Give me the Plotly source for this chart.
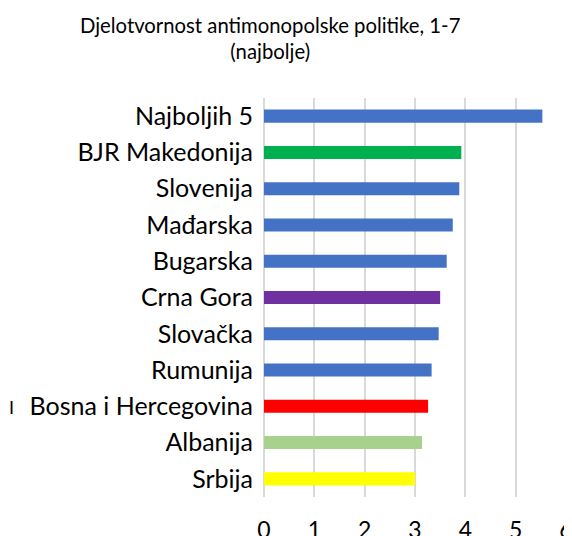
import plotly.graph_objects as go

categories = ["Najboljih 5", "BJR Makedonija", "Slovenija", "Mađarska", "Bugarska",
              "Crna Gora", "Slovačka", "Rumunija", "Bosna i Hercegovina", "Albanija", "Srbija"]
values = [5.53, 3.92, 3.88, 3.75, 3.63, 3.50, 3.47, 3.33, 3.26, 3.14, 3.00]
x_ticks = [0, 1, 2, 3, 4, 5, 6]
title_text = "Djelotvornost antimonopolske politike, 1-7<br>(najbolje)"

bar_colors = ["#4472C4", "#00B050", "#4472C4", "#4472C4", "#4472C4",
              "#7030A0", "#4472C4", "#4472C4", "#FF0000", "#A9D18E", "#FFFF00"]

FONT = "Lato, 'Open Sans', sans-serif"

# The page body has an 8px default margin; layout is expressed in div pixels.
W, H = 572, 536
L, R, T, B = 256, 14, 90, 47


def px_x(x):
    return (x - L) / (W - L - R)


def px_y(y):
    return 1 - (y - T) / (H - T - B)


fig = go.Figure(go.Bar(
    x=values, y=categories, orientation="h",
    marker=dict(color=bar_colors, line=dict(width=0)),
    hoverinfo="x+y",
))

fig.update_layout(
    width=W, height=H,
    margin=dict(l=L, r=R, t=T, b=B, autoexpand=False),
    paper_bgcolor="white", plot_bgcolor="white",
    bargap=0.64,
    showlegend=False,
    font=dict(family=FONT, color="#000000"),
    xaxis=dict(range=[0, 6], tickvals=x_ticks, showgrid=True, gridcolor="#d9d9d9",
               gridwidth=2, zeroline=True, zerolinecolor="#d9d9d9", zerolinewidth=2,
               showline=False, ticks="outside", ticklen=12, tickcolor="rgba(0,0,0,0)",
               automargin=False,
               tickfont=dict(family=FONT, size=23, color="#000000"), fixedrange=True),
    yaxis=dict(autorange="reversed", showgrid=False, showline=False, zeroline=False,
               ticks="outside", ticklen=5, tickcolor="rgba(0,0,0,0)", automargin=False,
               tickfont=dict(family=FONT, size=25, color="#000000"), fixedrange=True),
    annotations=[
        dict(text=title_text, x=px_x(262), y=px_y(30), xref="paper", yref="paper",
             xanchor="center", yanchor="middle", showarrow=False,
             font=dict(family=FONT, size=20.3, color="#000000")),
        dict(text="I", x=px_x(3), y=px_y(399), xref="paper", yref="paper",
             xanchor="center", yanchor="middle",
             showarrow=False, font=dict(family=FONT, size=18, color="#000000")),
    ],
)

fig.write_html("out.html")
